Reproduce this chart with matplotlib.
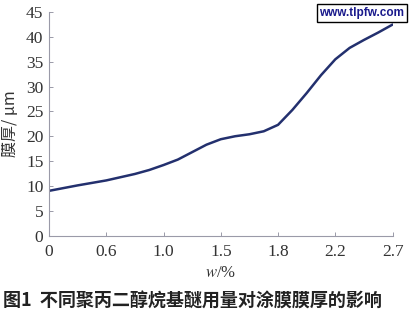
import matplotlib.pyplot as plt

plt.rcParams['font.serif'] = ['Liberation Serif', 'DejaVu Serif']
plt.rcParams['mathtext.fontset'] = 'stix'

# tick labels are evenly spaced categories on the x axis
x_ticks = ['0', '0.6', '1.0', '1.5', '1.8', '2.2', '2.7']
y_ticks = [0, 5, 10, 15, 20, 25, 30, 35, 40, 45]

# curve samples, x in tick-index units
pos = [0, 0.5, 1, 1.5, 1.75, 2, 2.25, 2.5, 2.75, 3, 3.25, 3.5, 3.75, 4,
       4.25, 4.5, 4.75, 5, 5.25, 5.5, 5.75, 6]
thick = [9.0, 10.1, 11.1, 12.4, 13.2, 14.2, 15.3, 16.8, 18.3, 19.4, 20.0,
         20.4, 21.0, 22.3, 25.3, 28.7, 32.3, 35.5, 37.8, 39.4, 40.9, 42.5]

fig = plt.figure(figsize=(4.1, 3.2), dpi=100)
ax = fig.add_axes([0.1195, 0.264, 0.838, 0.698])

ax.plot(pos, thick, color='#23306e', lw=1.8, solid_capstyle='round')

ax.set_xlim(0, 6)
ax.set_ylim(0, 45)
ax.set_xticks(range(len(x_ticks)))
ax.set_xticklabels(x_ticks, family='serif', fontsize=12.5)
ax.set_yticks(y_ticks)
ax.set_yticklabels([str(v) for v in y_ticks], family='serif', fontsize=12.5)

for s in ['top', 'right']:
    ax.spines[s].set_visible(False)
for s in ['left', 'bottom']:
    ax.spines[s].set_color('#9a9aa8')
    ax.spines[s].set_linewidth(0.8)

ax.tick_params(direction='in', length=3, width=0.7, color='#9a9aa8',
               labelcolor='#333333')
ax.tick_params(axis='x', pad=6)
ax.tick_params(axis='y', pad=4)

ax.set_ylabel('膜厚/ μm', family=['Noto Sans CJK SC', 'DejaVu Sans'],
              fontsize=11.5, color='#333333', labelpad=5)
ax.set_xlabel('$w$/%', family='serif', fontsize=12,
              color='#333333', labelpad=4)

fig.text(0.008, 0.06, '图1  不同聚丙二醇烷基醚用量对涂膜膜厚的影响',
         family=['Noto Sans CJK SC', 'DejaVu Sans'], fontsize=13,
         fontweight='bold', color='#222222', ha='left', va='center')

fig.text(0.883, 0.958, 'www.tlpfw.com', family='Liberation Sans', fontsize=8.5,
         fontweight='bold', color='#1a1a8c', ha='center', va='center',
         bbox=dict(boxstyle='square,pad=0.25', fc='white', ec='black', lw=1))

fig.savefig('out.png', dpi=100)
